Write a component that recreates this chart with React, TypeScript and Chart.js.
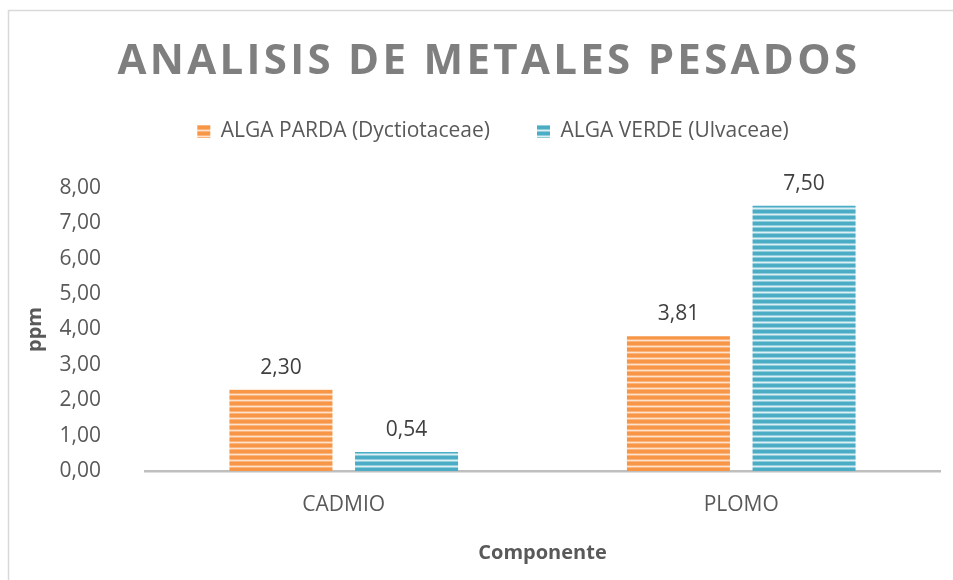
import React, { useEffect, useRef } from "react";
import { Chart, registerables } from "chart.js";

Chart.register(...registerables);

const titleText = "ANALISIS DE METALES PESADOS";
const categories = ["CADMIO", "PLOMO"];
const seriesNames = ["ALGA PARDA (Dyctiotaceae)", "ALGA VERDE (Ulvaceae)"];
const algaParda = [2.3, 3.81];
const algaVerde = [0.54, 7.5];
const yMin = 0;
const yMax = 8;
const yStep = 1;
const xAxisTitle = "Componente";
const yAxisTitle = "ppm";

const FONT = "'Open Sans', 'DejaVu Sans', sans-serif";

const fmt = (v: number) => v.toFixed(2).replace(".", ",");

function makeStripe(ctx: CanvasRenderingContext2D, rows: string[]) {
  const c = document.createElement("canvas");
  c.width = 8;
  c.height = rows.length;
  const g = c.getContext("2d")!;
  rows.forEach((col, i) => {
    g.fillStyle = col;
    g.fillRect(0, i, 8, 1);
  });
  return ctx.createPattern(c, "repeat")!;
}

export default function App() {
  const ref = useRef<HTMLCanvasElement>(null);

  useEffect(() => {
    const canvas = ref.current!;
    const ctx = canvas.getContext("2d")!;
    const orange = makeStripe(ctx, ["#F79646", "#F79646", "#F79646", "#FAB47C", "#FDE3CE", "#FAB47C"]);
    const blue = makeStripe(ctx, ["#4BACC6", "#4BACC6", "#4BACC6", "#92CDDC", "#DCEFF5", "#92CDDC"]);

    const legendSpacePlugin = {
      id: "legendSpace",
      beforeLayout(chart: any) {
        const lg = chart.legend;
        if (lg && !lg.__wrapped) {
          const orig = lg.fit;
          lg.fit = function (this: any) {
            orig.call(this);
            this.height += 36;
          };
          lg.__wrapped = true;
        }
      },
    };

    const framePlugin = {
      id: "frame",
      beforeDraw(chart: any) {
        const c = chart.ctx;
        c.save();
        c.fillStyle = "#ffffff";
        c.fillRect(0, 0, chart.width, chart.height);
        c.strokeStyle = "#d9d9d9";
        c.lineWidth = 1.5;
        c.strokeRect(8.5, 10.5, 1000, 1000);
        c.restore();
      },
      afterDraw(chart: any) {
        const c = chart.ctx;
        c.save();
        c.fillStyle = "#7f7f7f";
        c.font = `bold 42px ${FONT}`;
        (c as any).letterSpacing = "3.3px";
        c.textAlign = "center";
        c.textBaseline = "middle";
        c.fillText(titleText, 489, 62);
        c.restore();
      },
    };

    const labelPlugin = {
      id: "barLabels",
      afterDatasetsDraw(chart: any) {
        const c = chart.ctx;
        c.save();
        c.fillStyle = "#404040";
        c.font = `21px ${FONT}`;
        c.textAlign = "center";
        c.textBaseline = "middle";
        chart.data.datasets.forEach((ds: any, di: number) => {
          const meta = chart.getDatasetMeta(di);
          meta.data.forEach((bar: any, i: number) => {
            c.fillText(fmt(ds.data[i]), bar.x, bar.y - 22);
          });
        });
        c.restore();
      },
    };

    const chart = new Chart(canvas, {
      type: "bar",
      data: {
        labels: categories,
        datasets: [
          {
            label: seriesNames[0],
            data: algaParda,
            backgroundColor: orange,
            borderWidth: 0,
            categoryPercentage: 0.632,
            barPercentage: 0.82,
          },
          {
            label: seriesNames[1],
            data: algaVerde,
            backgroundColor: blue,
            borderWidth: 0,
            categoryPercentage: 0.632,
            barPercentage: 0.82,
          },
        ],
      },
      options: {
        responsive: false,
        animation: false,
        devicePixelRatio: 1,
        layout: { padding: { top: 74, left: 46, right: 13, bottom: 0 } },
        plugins: {
          title: { display: false },
          tooltip: { enabled: false },
          legend: {
            display: true,
            position: "top",
            labels: {
              boxWidth: 13,
              boxHeight: 13,
              padding: 47,
              color: "#595959",
              font: { family: FONT, size: 21 },
            },
          },
        },
        scales: {
          x: {
            grid: { display: false, drawTicks: false },
            border: { display: true, color: "#bfbfbf", width: 2.5 },
            ticks: { color: "#595959", font: { family: FONT, size: 21 }, padding: 21 },
            title: {
              display: true,
              text: xAxisTitle,
              color: "#595959",
              font: { family: FONT, size: 20, weight: "bold" },
              padding: { top: 0, bottom: 15 },
            },
            afterFit(scale: any) {
              scale.height = 109;
            },
          },
          y: {
            min: yMin,
            max: yMax,
            ticks: {
              stepSize: yStep,
              color: "#595959",
              font: { family: FONT, size: 21 },
              padding: 44,
              callback: (v: any) => fmt(Number(v)),
            },
            grid: { display: false, drawTicks: false },
            border: { display: false },
            title: {
              display: true,
              text: yAxisTitle,
              color: "#595959",
              font: { family: FONT, size: 20, weight: "bold" },
              padding: { top: -23, bottom: 0 },
            },
            afterFit(scale: any) {
              scale.width = 99;
            },
          },
        },
      },
      plugins: [legendSpacePlugin, framePlugin, labelPlugin],
    } as any);

    return () => chart.destroy();
  }, []);

  return (
    <div style={{ position: "fixed", left: 0, top: 0, width: 953, height: 580 }}>
      <canvas ref={ref} width={953} height={580} style={{ width: 953, height: 580, display: "block" }} />
    </div>
  );
}
